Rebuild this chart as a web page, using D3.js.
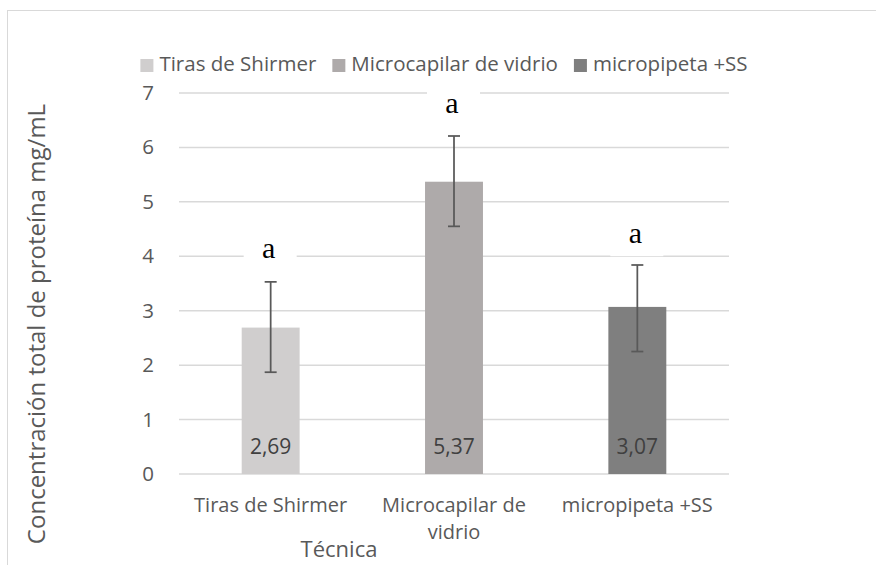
<!DOCTYPE html>
<html>
<head>
<meta charset="utf-8">
<script src="https://cdn.jsdelivr.net/npm/d3@7"></script>
<style>
  html, body { margin: 0; padding: 0; background: #fff; }
  svg { display: block; }
  text { font-family: "Open Sans", sans-serif; }
</style>
</head>
<body>
<svg id="chart" width="876" height="565"></svg>
<script>
// ---- data ----
const categories = ["Tiras de Shirmer", "Microcapilar de vidrio", "micropipeta +SS"];
const values = [2.69, 5.37, 3.07];
const errorUpper = [3.53, 6.21, 3.84];
const errorLower = [1.87, 4.55, 2.25];
const valueLabels = ["2,69", "5,37", "3,07"];
const groupLetters = ["a", "a", "a"];
const letterLevels = [3.97, 6.63, 4.24];
const yTicks = [0, 1, 2, 3, 4, 5, 6, 7];
const colors = ["#d0cece", "#aeaaaa", "#7f7f7f"];
const yTitle = "Concentración total de proteína mg/mL";
const xTitle = "Técnica";

// ---- layout ----
const svg = d3.select("#chart");
const plot = { left: 179, right: 729, top: 93, bottom: 474 };

const x = d3.scaleBand().domain(categories)
  .range([plot.left, plot.right]).paddingInner(0.684).paddingOuter(0.342);
const y = d3.scaleLinear().domain([0, 7]).range([plot.bottom, plot.top]);

// outer border
svg.append("rect").attr("x", 7.5).attr("y", 10.5).attr("width", 900).attr("height", 600)
  .attr("fill", "#fff").attr("stroke", "#d9d9d9").attr("stroke-width", 1);

// gridlines
svg.append("g").selectAll("line").data(yTicks).join("line")
  .attr("x1", plot.left).attr("x2", plot.right)
  .attr("y1", d => y(d)).attr("y2", d => y(d))
  .attr("stroke", "#d9d9d9").attr("stroke-width", 1.5);

// y axis labels via d3 axis
const yAxis = d3.axisLeft(y).tickValues(yTicks).tickSize(0).tickPadding(25).tickFormat(d3.format("d"));
const gy = svg.append("g").attr("transform", `translate(${plot.left},0)`).call(yAxis);
gy.select(".domain").remove();
gy.selectAll("text").attr("fill", "#595959").style("font-size", "20.5px")
  .style("font-family", "'Open Sans', sans-serif");

// bars
svg.append("g").selectAll("rect").data(categories).join("rect")
  .attr("x", d => x(d)).attr("width", x.bandwidth())
  .attr("y", (d, i) => y(values[i])).attr("height", (d, i) => y(0) - y(values[i]))
  .attr("fill", (d, i) => colors[i]);

// value labels
svg.append("g").selectAll("text").data(categories).join("text")
  .attr("x", d => x(d) + x.bandwidth() / 2).attr("y", y(0) - 20)
  .attr("text-anchor", "middle").attr("fill", "#404040").style("font-size", "21px")
  .text((d, i) => valueLabels[i]);

// error bars
const eg = svg.append("g").attr("stroke", "#595959").attr("stroke-width", 1.75);
categories.forEach((c, i) => {
  const cx = x(c) + x.bandwidth() / 2;
  eg.append("line").attr("x1", cx).attr("x2", cx).attr("y1", y(errorUpper[i])).attr("y2", y(errorLower[i]));
  [errorUpper[i], errorLower[i]].forEach(v => {
    eg.append("line").attr("x1", cx - 6).attr("x2", cx + 6).attr("y1", y(v)).attr("y2", y(v));
  });
});

// group letters with white boxes
const lg = svg.append("g");
categories.forEach((c, i) => {
  const cx = x(c) + x.bandwidth() / 2;
  const by = y(letterLevels[i]);
  lg.append("rect").attr("x", cx - 27).attr("y", by - 40).attr("width", 53).attr("height", 53).attr("fill", "#fff");
  lg.append("text").attr("x", cx - 2).attr("y", by).attr("text-anchor", "middle")
    .style("font-family", "'Liberation Serif', 'Times New Roman', serif").style("font-size", "30px")
    .attr("fill", "#000").text(groupLetters[i]);
});

// x tick labels with wrapping
const xg = svg.append("g");
categories.forEach(c => {
  const cx = x(c) + x.bandwidth() / 2;
  const t = xg.append("text").attr("x", cx).attr("y", 512).attr("text-anchor", "middle")
    .attr("fill", "#595959").style("font-size", "20px");
  const words = c.split(" ");
  let line = [];
  let ts = t.append("tspan").attr("x", cx).attr("dy", 0);
  words.forEach(w => {
    line.push(w);
    ts.text(line.join(" "));
    if (ts.node().getComputedTextLength() > 175 && line.length > 1) {
      line.pop(); ts.text(line.join(" "));
      line = [w];
      ts = t.append("tspan").attr("x", cx).attr("dy", 27).text(w);
    }
  });
});

// axis titles
svg.append("text").attr("x", 339).attr("y", 557).attr("text-anchor", "middle")
  .attr("fill", "#595959").style("font-size", "22px").text(xTitle);
svg.append("text").attr("transform", "translate(45,324) rotate(-90)").attr("text-anchor", "middle")
  .attr("fill", "#595959").style("font-size", "24px").text(yTitle);

// legend
const leg = svg.append("g");
let lx = 0;
categories.forEach((c, i) => {
  const g = leg.append("g");
  g.append("rect").attr("x", 0).attr("y", -12).attr("width", 13).attr("height", 13).attr("fill", colors[i]);
  const t = g.append("text").attr("x", 19).attr("y", 0).attr("fill", "#595959").style("font-size", "20.5px").text(c);
  const w = 19 + t.node().getComputedTextLength();
  g.attr("transform", `translate(${lx},71)`);
  lx += w + 16;
});
const total = lx - 16;
leg.attr("transform", `translate(${444 - total / 2},0)`);
</script>
</body>
</html>
